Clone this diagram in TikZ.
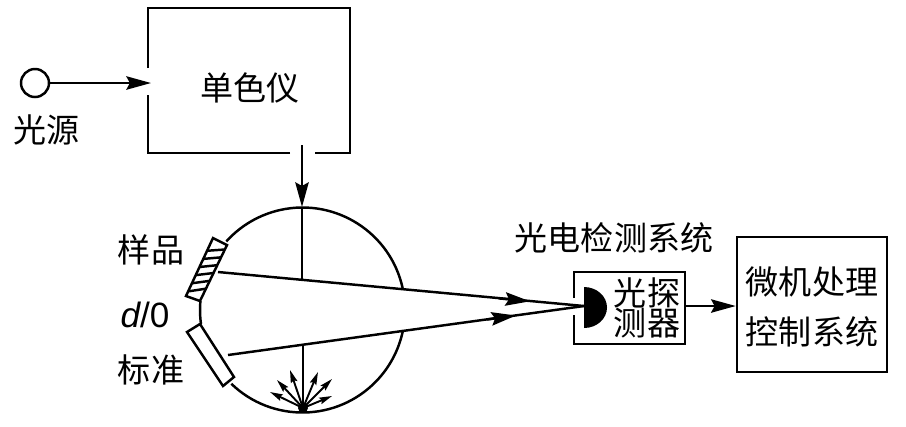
\documentclass[tikz,border=0pt]{standalone}
\usepackage{fontspec}
\setmainfont{Noto Sans CJK SC}
\newfontfamily\latfont{Liberation Sans}
\usetikzlibrary{calc}
\usetikzlibrary{arrows.meta}
\tikzset{
  lbl/.style={inner sep=0pt,align=center,font=\fontsize{9.4pt}{9.4pt}\selectfont},
  wire/.style={line width=0.7pt},
  tip/.style={wire,-{Stealth[length=7pt,width=3.8pt,inset=1pt]}},
  smalltip/.style={line width=0.55pt,-{Stealth[length=3.6pt,width=1.9pt,inset=0.5pt]}}
}
\newcommand{\lablnode}[4]{\node[lbl] (#1) at (#2,#3) {#4};}

\begin{document}
\begin{tikzpicture}[x=0.01cm,y=-0.01cm]
        \useasboundingbox (0,0) rectangle (906,426);

        %source and monochromator
        \node[wire,draw,circle,inner sep=0pt,minimum size=0.28cm] (src) at (35,83) {};
        \coordinate (monoin) at (151,83);
        \coordinate (monoout) at (302,145);
        \coordinate (spheretop) at (302,207);
        \draw[wire] (148,68) -- (148,8) -- (350,8) -- (350,153) -- (315,153);
        \draw[wire] (290,153) -- (148,153) -- (148,95);
        \draw[tip] (src) -- (monoin);
        \draw[tip] (monoout) -- (spheretop);

        %sphere
        \coordinate (sph) at (302.5,310);
        \draw[wire] (sph) ++(-12.4:102.5) arc[start angle=-12.4,end angle=-138,radius=102.5];
        \draw[wire] (sph) ++(172:102.5) arc[start angle=172,end angle=185,radius=102.5];
        \draw[wire] (sph) ++(134:102.5) arc[start angle=134,end angle=11.3,radius=102.5];

        %sample
        \coordinate (sa) at (213,238);
        \coordinate (sb) at (227,245);
        \coordinate (sc) at (200,301);
        \coordinate (sd) at (186,296);
        \draw[wire] (sa) -- (sb) -- (sc) -- (sd) -- cycle;
        \foreach \t in {0.22,0.36,0.50,0.64,0.78,0.92}
          \draw[wire] ($(sa)!\t!(sd)$) -- ($(sb)!\t-0.14!(sc)$);

        %standard
        \coordinate (ta) at (200,324);
        \coordinate (tb) at (234,377);
        \coordinate (tc) at (223,386);
        \coordinate (td) at (187,332);
        \draw[wire] (ta) -- (tb) -- (tc) -- (td) -- cycle;

        %beams
        \coordinate (focus) at (584,306);
        \coordinate (upstart) at (218,272);
        \coordinate (lowstart) at (228,355);
        \coordinate (upmid) at (530,301.3);
        \coordinate (lowmid) at (516,315.5);
        \coordinate (upfoot) at (302,279.6);
        \coordinate (lowfoot) at (303,344);
        \coordinate (spherebot) at (303,412);
        \draw[wire] (upstart) -- (focus);
        \draw[wire] (lowstart) -- (focus);
        \draw[tip] ($(upstart)!0.9!(upmid)$) -- (upmid);
        \draw[tip] ($(lowstart)!0.9!(lowmid)$) -- (lowmid);
        \draw[wire] (spheretop) -- (upfoot);
        \draw[line width=0.6pt] (lowfoot) -- (spherebot);

        %burst
        \coordinate (burst) at (303,408);
        \foreach \x/\y in {270/392,277/380,290/370,318/372,332/379,332/396}
          \draw[smalltip] (burst) -- (\x,\y);
        \fill (burst) circle (5);

        %detector
        \draw[wire] (574,298) -- (574,272) -- (685,272) -- (685,344) -- (574,344) -- (574,315);
        \fill (584,287) arc[start angle=-90,end angle=90,x radius=23,y radius=20.5] -- cycle;

        %processor
        \node[wire,draw,inner sep=0pt,minimum width=1.50cm,minimum height=1.35cm] (proc) at (812,304.5) {};
        \coordinate (detout) at (685,306);
        \draw[tip] (detout) -- (detout -| proc.west);

        %labels
        \lablnode{srctxt}{47}{130}{光源}
        \lablnode{monotxt}{250}{88}{单色仪}
        \lablnode{samptxt}{151}{250}{样品}
        \node[lbl,font=\fontsize{10pt}{10pt}\latfont] (geomtxt) at (145,315) {\itshape d\upshape/0};
        \lablnode{stdtxt}{151}{370}{标准}
        \lablnode{systxt}{614}{238}{光电检测系统}
        \lablnode{dettxt}{647}{308}{光探\\[-1pt]测器}
        \lablnode{proctxt}{812}{307}{微机处理\\[4.8pt]控制系统}
\end{tikzpicture}
\end{document}
